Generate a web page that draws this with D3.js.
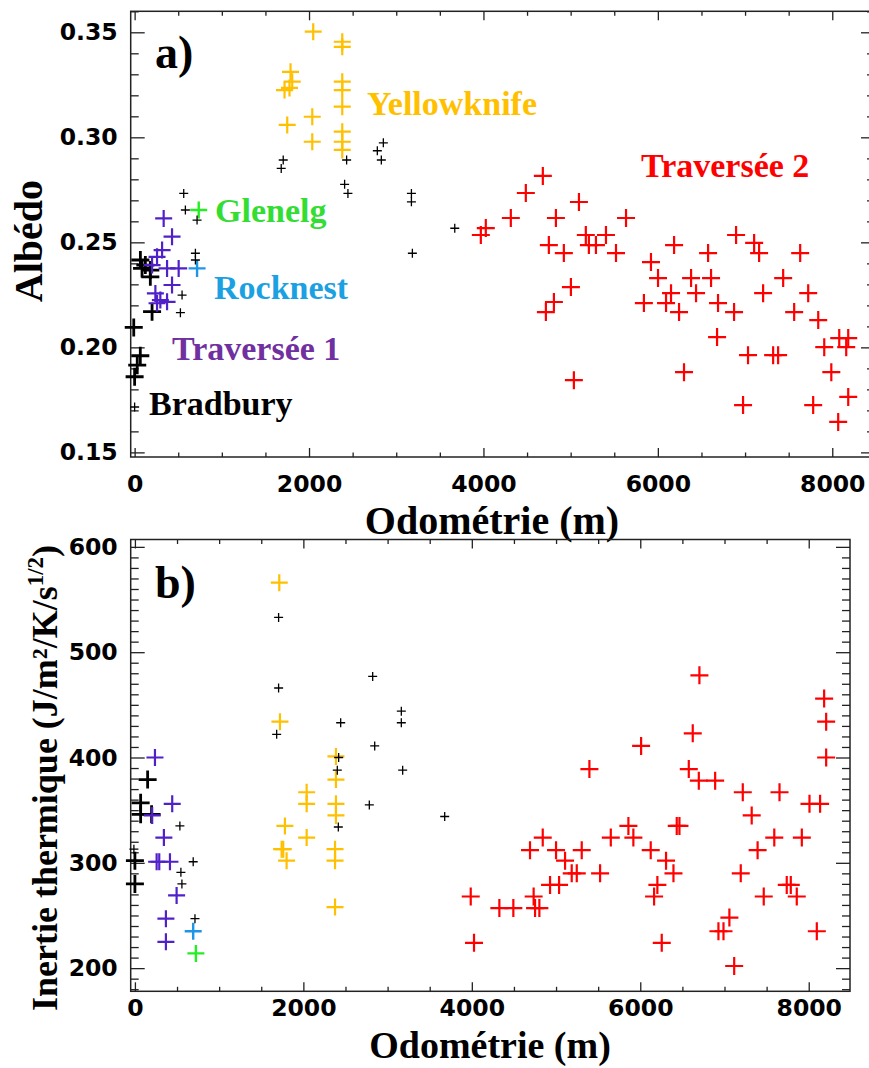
<!DOCTYPE html>
<html><head><meta charset="utf-8">
<script src="https://cdn.jsdelivr.net/npm/d3@7"></script>
<style>body{margin:0;background:#fff}svg{display:block}</style>
</head><body><svg id="c" width="869" height="1068"></svg>
<script>
// ---------- DATA ----------
const odoTicks = [0, 2000, 4000, 6000, 8000];
const albedoTicks = [0.15, 0.20, 0.25, 0.30, 0.35];
const inertiaTicks = [200, 300, 400, 500, 600];

// Panel a : albedo vs odometry
const albedoBradbury = [[66,0.2416],[123,0.2392],[180,0.2368],[85,0.2376],[180,0.2336],[200,0.2170],[-10,0.2095],[65,0.1960],[30,0.1915],[0,0.1860]];
const albedoOther = [[1704,0.2892],[1681,0.2852],[2431,0.2892],[2408,0.2776],[2446,0.2733],[2852,0.2974],[2783,0.2936],[2829,0.2892],[3174,0.2733],[3174,0.2693],[3671,0.2567],[3185,0.2448],[563,0.2733],[582,0.2654],[716,0.2606],[697,0.2448],[697,0.2416],[544,0.2249],[525,0.2165],[0,0.1716]];
const albedoTrav1 = [[333,0.2614],[429,0.2527],[315,0.2463],[257,0.2431],[200,0.2392],[372,0.2376],[505,0.2376],[429,0.2297],[238,0.2257],[295,0.2225],[372,0.2217],[257,0.2210]];
const albedoGlenelg = [[735,0.2654]];
const albedoRocknest = [[716,0.2376]];
const albedoYellowknife = [[2048,0.3503],[2381,0.3455],[2381,0.3431],[1788,0.3312],[1807,0.3265],[1719,0.3225],[1776,0.3235],[2381,0.3265],[2381,0.3225],[2381,0.3146],[2037,0.3098],[1750,0.3059],[2037,0.2979],[2381,0.3027],[2381,0.2979],[2381,0.2940]];
const albedoTrav2 = [[3970,0.2535],[4027,0.2568],[4314,0.2616],[4486,0.2735],[4681,0.2816],[4831,0.2616],[5095,0.2692],[4750,0.2487],[4922,0.2449],[5174,0.2535],[5209,0.2487],[5290,0.2487],[5405,0.2535],[5520,0.2449],[5635,0.2616],[5003,0.2287],[4808,0.2216],[4716,0.2168],[5037,0.1844],[5921,0.2406],[6002,0.2330],[6186,0.2487],[5840,0.2211],[6151,0.2258],[6094,0.2211],[6243,0.2168],[6381,0.2330],[6610,0.2330],[6438,0.2258],[6576,0.2449],[6300,0.1882],[6690,0.2211],[6874,0.2168],[6679,0.2049],[6897,0.2535],[7104,0.2497],[7161,0.2449],[7034,0.1963],[6977,0.1725],[7322,0.1963],[7379,0.1963],[7207,0.2258],[7437,0.2330],[7632,0.2449],[7724,0.2258],[7563,0.2168],[7839,0.2130],[7908,0.2001],[7989,0.1882],[7781,0.1725],[8080,0.2044],[8183,0.2044],[8160,0.2001],[8183,0.1764],[8068,0.1645]];

// Panel b : thermal inertia vs odometry
const inertiaBradbury = [[151,379],[68,357],[68,346],[198,346],[0,302],[0,280]];
const inertiaOther = [[-12,313],[534,335],[692,301],[546,291],[558,280],[713,247],[1706,533],[1706,466],[1683,422],[2823,477],[2443,433],[3163,444],[3163,433],[2847,411],[2403,388],[2419,400],[3179,388],[2783,355],[2415,334],[3678,344]];
const inertiaTrav1 = [[238,400],[443,356],[205,345],[344,324],[258,301],[289,301],[416,301],[495,269],[368,247],[368,225]];
const inertiaRocknest = [[692,235]];
const inertiaGlenelg = [[724,214]];
const inertiaYellowknife = [[1714,566],[1722,434],[2387,401],[2387,379],[2039,367],[2039,356],[2387,356],[2387,345],[1781,335],[2039,324],[1761,313],[1742,313],[1801,302],[2376,313],[2376,302],[2376,258]];
const inertiaTrav2 = [[3987,268],[4026,224],[4327,257],[4493,257],[4691,312],[4842,324],[4734,268],[4751,257],[4802,257],[5000,312],[5107,302],[4929,279],[5036,279],[5186,290],[5246,290],[5305,312],[5396,389],[5523,290],[5650,324],[5859,335],[5918,324],[6010,411],[6124,312],[6306,302],[6394,290],[6203,279],[6164,268],[6255,224],[6433,335],[6465,335],[6702,478],[6623,423],[6576,389],[6695,378],[6889,378],[7217,367],[7323,345],[7193,290],[7393,312],[7591,324],[7466,268],[7653,367],[7058,248],[6928,235],[6988,235],[7115,202],[7739,279],[7787,279],[7858,268],[7918,324],[8009,356],[8135,356],[8096,235],[8183,456],[8207,434],[8207,400]];

// ---------- STYLE ----------
const COL = {black:"#000", purple:"#5020c8", green:"#22ee22", blue:"#1e96e8", yellow:"#ffc000", red:"#ff0000"};
const serif = "'Liberation Serif','Times New Roman',serif";
const sans = "'DejaVu Sans',sans-serif";

const svg = d3.select("#c");

function plus(g, data, x, y, color, half, sw) {
  g.append("g").selectAll("path").data(data).join("path")
    .attr("transform", d => `translate(${x(d[0])},${y(d[1])})`)
    .attr("d", `M${-half},0H${half}M0,${-half}V${half}`)
    .attr("stroke", color).attr("stroke-width", sw).attr("fill", "none");
}

function frame(g, x, y, box, yMajor, yMinor, yFmt, xPad) {
  const xMinor = d3.range(0, 8600, 500).filter(v => v % 2000 !== 0 && v <= x.domain()[1]);
  const clean = s => { s.select(".domain").remove(); s.selectAll("line").attr("stroke", "#222").attr("stroke-width", 1.3); };
  const styleText = s => s.selectAll("text").attr("font-family", sans).attr("font-weight", "bold").attr("font-size", 23.5).attr("fill", "#000");
  g.append("g").attr("transform", `translate(0,${box.b})`).call(d3.axisBottom(x).tickValues(odoTicks).tickSize(-9).tickPadding(xPad).tickFormat(d3.format("d"))).call(clean).call(styleText);
  g.append("g").attr("transform", `translate(0,${box.b})`).call(d3.axisBottom(x).tickValues(xMinor).tickSize(-4.5).tickFormat("")).call(clean);
  g.append("g").attr("transform", `translate(0,${box.t})`).call(d3.axisTop(x).tickValues(odoTicks).tickSize(-9).tickFormat("")).call(clean);
  g.append("g").attr("transform", `translate(0,${box.t})`).call(d3.axisTop(x).tickValues(xMinor).tickSize(-4.5).tickFormat("")).call(clean);
  g.append("g").attr("transform", `translate(${box.l},0)`).call(d3.axisLeft(y).tickValues(yMajor).tickSize(-14).tickPadding(13).tickFormat(yFmt)).call(clean).call(styleText);
  g.append("g").attr("transform", `translate(${box.l},0)`).call(d3.axisLeft(y).tickValues(yMinor).tickSize(-8).tickFormat("")).call(clean);
  g.append("g").attr("transform", `translate(${box.r},0)`).call(d3.axisRight(y).tickValues(yMajor).tickSize(-14).tickFormat("")).call(clean);
  g.append("g").attr("transform", `translate(${box.r},0)`).call(d3.axisRight(y).tickValues(yMinor).tickSize(-8).tickFormat("")).call(clean);
  g.append("rect").attr("x", box.l).attr("y", box.t).attr("width", box.r - box.l).attr("height", box.b - box.t)
    .attr("fill", "none").attr("stroke", "#222").attr("stroke-width", 1.5);
}

function label(g, txt, x, y, color, size) {
  return g.append("text").attr("x", x).attr("y", y).text(txt)
    .attr("font-family", serif).attr("font-weight", "bold").attr("font-size", size).attr("fill", color);
}

// ---------- PANEL A ----------
const boxA = {l:130.7, r:875, t:11.3, b:457};
const xA = d3.scaleLinear().domain([-45, 8490]).range([boxA.l, boxA.r]);
const yA = d3.scaleLinear().domain([0.1478, 0.36]).range([boxA.b, boxA.t]);
const gA = svg.append("g");
frame(gA, xA, yA, boxA, albedoTicks, d3.range(15, 37).filter(v => v % 5 !== 0).map(v => v / 100), d3.format(".2f"), 18);

plus(gA, albedoBradbury, xA, yA, COL.black, 9, 2.8);
plus(gA, albedoTrav1, xA, yA, COL.purple, 8.5, 2.2);
plus(gA, albedoGlenelg, xA, yA, COL.green, 8.5, 2.4);
plus(gA, albedoRocknest, xA, yA, COL.blue, 8.5, 2.4);
plus(gA, albedoYellowknife, xA, yA, COL.yellow, 8.5, 2.2);
plus(gA, albedoTrav2, xA, yA, COL.red, 9, 2.2);
plus(gA, albedoOther, xA, yA, COL.black, 4.5, 1.3);

label(gA, "a)", 155, 68, "#000", 46);
label(gA, "Yellowknife", 367, 115, COL.yellow, 34);
label(gA, "Traversée 2", 641, 177, COL.red, 34);
label(gA, "Glenelg", 215, 222, "#33dd33", 34);
label(gA, "Rocknest", 214, 299, "#1ba1e2", 34);
label(gA, "Traversée 1", 172, 360, "#7030a0", 34);
label(gA, "Bradbury", 149, 415, "#000", 34);

gA.append("text").attr("transform", "translate(42,241) rotate(-90)").attr("text-anchor", "middle")
  .attr("font-family", serif).attr("font-weight", "bold").attr("font-size", 40).text("Albédo");
gA.append("text").attr("x", 492).attr("y", 534).attr("text-anchor", "middle")
  .attr("font-family", serif).attr("font-weight", "bold").attr("font-size", 40).text("Odométrie (m)");

// ---------- PANEL B ----------
const boxB = {l:130.7, r:850, t:539.5, b:991.3};
const xB = d3.scaleLinear().domain([-50, 8490]).range([boxB.l, boxB.r]);
const yB = d3.scaleLinear().domain([178, 607]).range([boxB.b, boxB.t]);
const gB = svg.append("g");
frame(gB, xB, yB, boxB, inertiaTicks, d3.range(180, 610, 10).filter(v => v % 100 !== 0), d3.format("d"), 8);

plus(gB, inertiaBradbury, xB, yB, COL.black, 9, 2.8);
plus(gB, inertiaTrav1, xB, yB, COL.purple, 8.5, 2.2);
plus(gB, inertiaGlenelg, xB, yB, COL.green, 8.5, 2.4);
plus(gB, inertiaRocknest, xB, yB, COL.blue, 8.5, 2.4);
plus(gB, inertiaYellowknife, xB, yB, COL.yellow, 8.5, 2.2);
plus(gB, inertiaTrav2, xB, yB, COL.red, 9, 2.2);
plus(gB, inertiaOther, xB, yB, COL.black, 4.5, 1.3);

label(gB, "b)", 155, 598, "#000", 46);

const yt = gB.append("text").attr("transform", "translate(57,778) rotate(-90)").attr("text-anchor", "middle")
  .attr("font-family", serif).attr("font-weight", "bold").attr("font-size", 36);
yt.append("tspan").text("Inertie thermique (J/m²/K/s");
yt.append("tspan").attr("font-size", 23).attr("dy", -14).text("1/2");
yt.append("tspan").attr("dy", 14).text(")");

gB.append("text").attr("x", 490).attr("y", 1058).attr("text-anchor", "middle")
  .attr("font-family", serif).attr("font-weight", "bold").attr("font-size", 38).text("Odométrie (m)");
</script></body></html>
